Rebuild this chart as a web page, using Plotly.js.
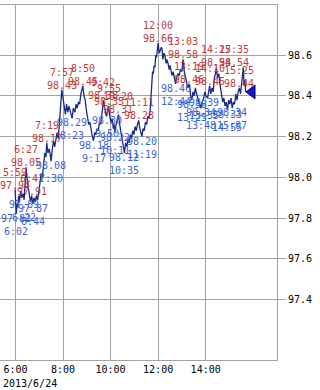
<!DOCTYPE html>
<html>
<head>
<meta charset="utf-8">
<script src="https://cdn.plot.ly/plotly-3.0.1.min.js"></script>
<style>html,body{margin:0;padding:0;background:#fff}#chart{width:320px;height:390px}</style>
</head>
<body>
<div id="chart"></div>
<script>
var tradeDate = '2013-06-24';
var dateLabel = '2013/6/24';

var times = ['5:59','6:00','6:02','6:04','6:06','6:08','6:10','6:13','6:16','6:19','6:22','6:24','6:27','6:30','6:33','6:36','6:38','6:41','6:44','6:47','6:50','6:53','6:56','6:59',
'7:02','7:05','7:08','7:11','7:14','7:17','7:19','7:22','7:25','7:28','7:30','7:33','7:36','7:39','7:42','7:45','7:48','7:51','7:54','7:57',
'8:00','8:03','8:06','8:09','8:12','8:15','8:18','8:21','8:23','8:26','8:30','8:33','8:36','8:39','8:42','8:45','8:48','8:50','8:53','8:56','8:59',
'9:02','9:05','9:08','9:11','9:14','9:17','9:20','9:23','9:26','9:29','9:32','9:35','9:38','9:40','9:42','9:45','9:48','9:50','9:53','9:55','9:58',
'10:01','10:04','10:07','10:09','10:11','10:14','10:17','10:20','10:23','10:26','10:29','10:32','10:35','10:38','10:41','10:44','10:47','10:50','10:53','10:56','10:59',
'11:02','11:05','11:08','11:11','11:14','11:17','11:19','11:22','11:25','11:28','11:31','11:34','11:37','11:40','11:42','11:44','11:46','11:48','11:50','11:52','11:54','11:56','11:58',
'12:00','12:03','12:05','12:08','12:10','12:12','12:15','12:17','12:20','12:22','12:25','12:28','12:30','12:33','12:35','12:38','12:41','12:44','12:47','12:50','12:53','12:56',
'13:00','13:03','13:06','13:09','13:12','13:15','13:19','13:22','13:25','13:28','13:31','13:34','13:37','13:40','13:44','13:48','13:51','13:55','13:58',
'14:01','14:05','14:08','14:10','14:13','14:16','14:19','14:22','14:25','14:27','14:30','14:33','14:36','14:40','14:43','14:46','14:49','14:52','14:55','14:58',
'15:01','15:04','15:07','15:10','15:13','15:16','15:19','15:22','15:25','15:28','15:31','15:33','15:35','15:37','15:39','15:41'];

var prices = [97.94,97.89,97.82,97.87,97.85,97.91,97.88,97.93,97.90,97.92,97.89,97.96,98.05,97.98,97.94,97.90,97.88,97.91,97.87,97.90,97.88,97.91,97.89,97.93,
97.97,98.02,98.00,98.08,98.12,98.10,98.17,98.12,98.14,98.11,98.08,98.14,98.18,98.15,98.20,98.22,98.19,98.26,98.35,98.43,
98.39,98.34,98.31,98.36,98.32,98.35,98.33,98.31,98.29,98.34,98.32,98.36,98.34,98.37,98.36,98.41,98.43,98.45,98.40,98.38,98.33,
98.30,98.26,98.27,98.22,98.20,98.18,98.22,98.21,98.24,98.23,98.27,98.26,98.30,98.34,98.38,98.33,98.31,98.30,98.33,98.35,98.30,
98.27,98.29,98.24,98.26,98.22,98.26,98.28,98.31,98.26,98.22,98.18,98.15,98.12,98.17,98.15,98.19,98.17,98.21,98.19,98.23,98.21,
98.25,98.23,98.26,98.28,98.24,98.22,98.20,98.24,98.23,98.27,98.26,98.30,98.29,98.33,98.38,98.46,98.52,98.51,98.55,98.54,98.60,98.59,98.63,
98.66,98.61,98.62,98.64,98.63,98.58,98.61,98.60,98.56,98.58,98.56,98.53,98.55,98.51,98.50,98.52,98.49,98.46,98.49,98.51,98.50,98.53,
98.52,98.58,98.52,98.49,98.47,98.44,98.46,98.40,98.38,98.42,98.40,98.44,98.41,98.39,98.36,98.34,98.37,98.39,98.42,
98.40,98.39,98.43,98.45,98.41,98.44,98.42,98.49,98.51,98.54,98.49,98.51,98.46,98.41,98.37,98.39,98.35,98.37,98.33,98.38,
98.36,98.39,98.34,98.37,98.36,98.41,98.38,98.42,98.44,98.41,98.47,98.50,98.54,98.45,98.48,98.42];

var highTimes = ['5:59','6:27','6:41','7:19','7:57','8:50','9:42','9:55','10:20','11:11','12:00','13:03','13:19','14:10','14:27','15:25','15:35'];
var highValues = [97.94,98.05,97.91,98.17,98.43,98.45,98.38,98.35,98.31,98.28,98.66,98.58,98.46,98.45,98.54,98.44,98.54];

var lowTimes = ['6:02','6:22','6:44','7:30','8:23','9:17','9:50','10:11','10:35','11:19','12:44','13:25','13:48','13:55','14:55','15:07'];
var lowValues = [97.82,97.89,97.87,98.08,98.29,98.18,98.30,98.22,98.12,98.20,98.46,98.38,98.34,98.39,98.33,98.34];

var xTickLabels = ['6:00','8:00','10:00','12:00','14:00'];
var yTickValues = [97.4,97.6,97.8,98.0,98.2,98.4,98.6];

function ts(t){ var p=t.split(':'); var h=p[0].length<2?'0'+p[0]:p[0]; return tradeDate+' '+h+':'+p[1]; }
function mins(t){ var p=t.split(':'); return +p[0]*60 + +p[1]; }
function addMin(t,m){ var tot=mins(t)+m; var h=Math.floor(tot/60), mm=tot%60; return h+':'+(mm<10?'0':'')+mm; }

var MONO = 'DejaVu Sans Mono, monospace';
var RED = '#bf3a3a', BLUE = '#3a64d6', GRID = '#a3a3a3';
var lastT = times[times.length-1], lastV = prices[prices.length-1];

var ann = [];
highTimes.forEach(function(t,i){
  // labels right at the end of the session are pulled left, as in the source chart
  var shift = (mins(lastT) - mins(t) < 10) ? -9 : 0;
  ann.push({x: ts(t), y: highValues[i], xref:'x', yref:'y', text: t+'<br>'+highValues[i].toFixed(2),
    showarrow:false, xanchor:'center', yanchor:'bottom', yshift:-2, xshift:shift, borderpad:0,
    font:{family:MONO,size:10,color:RED}});
});
lowTimes.forEach(function(t,i){
  ann.push({x: ts(t), y: lowValues[i], xref:'x', yref:'y', text: lowValues[i].toFixed(2)+'<br>'+t,
    showarrow:false, xanchor:'center', yanchor:'top', yshift:2, borderpad:0,
    font:{family:MONO,size:10,color:BLUE}});
});
ann.push({xref:'paper', yref:'paper', x:0, y:0, xanchor:'left', yanchor:'middle', xshift:1, yshift:-23,
  text: dateLabel, showarrow:false, font:{family:MONO,size:10,color:'#000'}});

var data = [
  {x: times.map(ts), y: prices, type:'scatter', mode:'lines', line:{color:'#1b2a86', width:1.3}, hoverinfo:'skip'},
  {x: [ts(addMin(lastT,16))], y:[lastV], type:'scatter', mode:'markers', hoverinfo:'skip',
   marker:{symbol:'triangle-left', size:12, color:'#1414d2', line:{color:'#000060', width:1}}, cliponaxis:false}
];

var layout = {
  width:320, height:390, showlegend:false,
  margin:{l:0, r:43, t:5, b:30, pad:0},
  paper_bgcolor:'#fff', plot_bgcolor:'#fff',
  xaxis:{type:'date', range:[tradeDate+' 05:21', tradeDate+' 17:00'],
    tickmode:'array', tickvals: xTickLabels.map(ts), ticktext: xTickLabels,
    showgrid:true, gridcolor:GRID, gridwidth:1, zeroline:false, ticks:'',
    showline:true, linecolor:GRID, linewidth:1, mirror:true,
    tickfont:{family:MONO,size:10,color:'#000'}},
  yaxis:{side:'right', range:[97.103, 98.847],
    tickmode:'array', tickvals:yTickValues, ticktext: yTickValues.map(function(v){return v.toFixed(1);}),
    showgrid:true, gridcolor:GRID, gridwidth:1, zeroline:false,
    ticks:'outside', ticklen:8, tickcolor:GRID, tickwidth:1,
    showline:true, linecolor:GRID, linewidth:1, mirror:false,
    tickfont:{family:MONO,size:10,color:'#000'}},
  annotations: ann
};

Plotly.newPlot('chart', data, layout, {staticPlot:true, displayModeBar:false});
</script>
</body>
</html>
